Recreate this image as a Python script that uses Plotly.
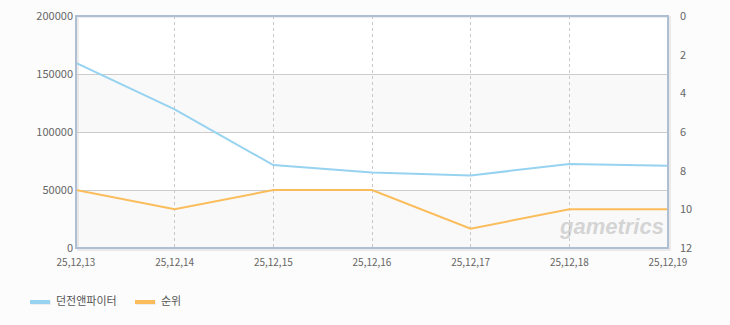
import plotly.graph_objects as go

dates = ["25,12,13", "25,12,14", "25,12,15", "25,12,16", "25,12,17", "25,12,18", "25,12,19"]
users = [159500, 119500, 71500, 65000, 62500, 72500, 71000]
rank = [9, 10, 9, 9, 11, 10, 10]
left_ticks = [0, 50000, 100000, 150000, 200000]
right_ticks = [0, 2, 4, 6, 8, 10, 12]
series_names = ["던전앤파이터", "순위"]
series_colors = ["#97d3f0", "#fbbd5c"]

FONT = "Noto Sans CJK KR, Liberation Sans, sans-serif"
fig = go.Figure()
fig.add_trace(go.Scatter(x=dates, y=users, name=series_names[0], mode="lines",
                         line=dict(color=series_colors[0], width=2), yaxis="y", showlegend=False))
fig.add_trace(go.Scatter(x=dates, y=rank, name=series_names[1], mode="lines",
                         line=dict(color=series_colors[1], width=2), yaxis="y2", showlegend=False))

W = 592.0
H = 232.0
def px(x):
    return (x - 76) / W
def py(y):
    return (248 - y) / H

shapes = []
for lo, hi in [(0, 50000), (100000, 150000)]:
    shapes.append(dict(type="rect", xref="paper", yref="y", x0=0, x1=1, y0=lo, y1=hi,
                       fillcolor="#f9f9f9", line=dict(width=0), layer="below"))
shapes.append(dict(type="rect", xref="paper", yref="paper", x0=px(78), x1=px(670), y0=py(250), y1=py(17),
                   line=dict(color="rgba(0,0,0,0.07)", width=2), layer="below"))
shapes.append(dict(type="rect", xref="paper", yref="paper", x0=0, x1=1, y0=0, y1=1,
                   line=dict(color="#aebfd4", width=2), layer="above"))

# manual legend
annotations = []
leg = [(30, 50, 54, series_names[0], series_colors[0]), (135, 155, 159, series_names[1], series_colors[1])]
for x0, x1, tx, name, col in leg:
    shapes.append(dict(type="line", xref="paper", yref="paper", x0=px(x0 + 1), x1=px(x1 + 1),
                       y0=py(303), y1=py(303), line=dict(color="rgba(0,0,0,0.06)", width=4)))
    shapes.append(dict(type="line", xref="paper", yref="paper", x0=px(x0), x1=px(x1),
                       y0=py(302), y1=py(302), line=dict(color=col, width=4)))
    annotations.append(dict(text=name, xref="paper", yref="paper", x=px(tx), y=py(300),
                            xanchor="left", yanchor="middle", showarrow=False,
                            font=dict(size=11, color="#555555", family=FONT)))

annotations.append(dict(text="<b><i>gametrics</i></b>", xref="paper", yref="paper", x=px(666), y=py(241),
                        xanchor="right", yanchor="bottom", showarrow=False,
                        font=dict(size=22, color="rgba(175,175,175,0.5)", family="Liberation Sans, sans-serif")))

fig.update_layout(
    width=730, height=325,
    margin=dict(l=76, r=62, t=16, b=77, autoexpand=False),
    paper_bgcolor="#fcfcfc", plot_bgcolor="#ffffff",
    font=dict(family=FONT, size=11, color="#666666"),
    showlegend=False,
    xaxis=dict(type="category", range=[0, 6], showgrid=True, gridcolor="#c8c8c8",
               griddash="3px,3px", gridwidth=1, zeroline=False, ticks="", showline=False,
               automargin=False, ticklabelstandoff=7,
               tickfont=dict(size=10, color="#666666", family=FONT)),
    yaxis=dict(range=[0, 200000], tickvals=left_ticks, ticktext=[str(v) for v in left_ticks],
               showgrid=True, gridcolor="#cccccc", gridwidth=1, zeroline=False, showline=False,
               automargin=False, ticks="", ticklabelstandoff=2, tickfont=dict(size=11, color="#666666")),
    yaxis2=dict(range=[12, 0], tickvals=right_ticks, overlaying="y", side="right",
                showgrid=False, zeroline=False, showline=False, ticks="", automargin=False,
                ticklabelstandoff=11, tickfont=dict(size=11, color="#666666")),
    shapes=shapes,
    annotations=annotations,
)
fig.write_html("out.html")
